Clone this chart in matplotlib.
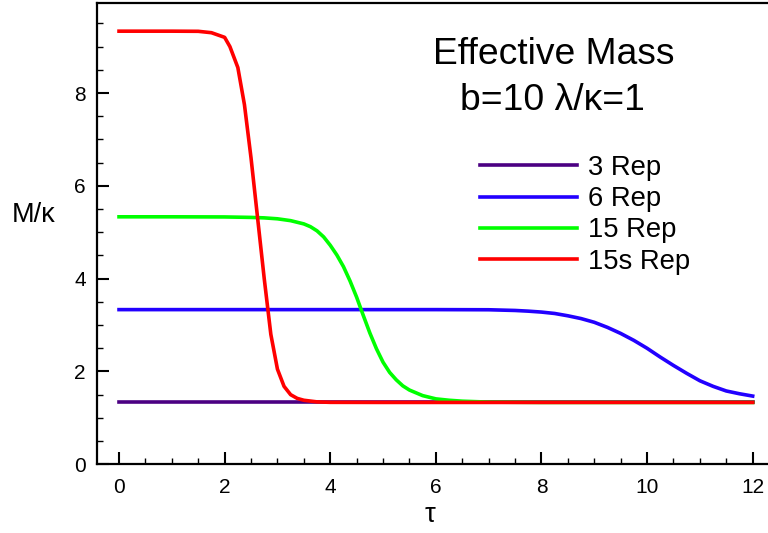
import matplotlib
matplotlib.use("Agg")
import matplotlib.pyplot as plt
from matplotlib.ticker import MultipleLocator

plt.rcParams['font.family'] = ['Liberation Sans', 'DejaVu Sans']

# 3 Rep (flat)
tau_3 = [0, 2, 4, 6, 8, 10, 12]
mass_3 = [1.333, 1.333, 1.333, 1.333, 1.333, 1.333, 1.333]

# 6 Rep
tau_6 = [0, 2, 4, 6, 7, 7.5, 7.75, 8, 8.25, 8.5, 8.75, 9, 9.25, 9.5, 9.75,
         10, 10.25, 10.5, 10.75, 11, 11.25, 11.5, 11.75, 12]
mass_6 = [3.333, 3.333, 3.333, 3.333, 3.33, 3.315, 3.30, 3.28, 3.25, 3.20,
          3.14, 3.06, 2.95, 2.82, 2.67, 2.50, 2.31, 2.13, 1.96, 1.80, 1.68,
          1.58, 1.52, 1.47]

# 15 Rep
tau_15 = [0, 1, 2, 2.5, 2.75, 3.0, 3.25, 3.5, 3.625, 3.75, 3.875, 4.0, 4.125,
          4.25, 4.375, 4.5, 4.625, 4.75, 4.875, 5.0, 5.125, 5.25, 5.375, 5.5,
          5.75, 6.0, 6.25, 6.5, 7, 8, 10, 12]
mass_15 = [5.333, 5.333, 5.33, 5.32, 5.31, 5.29, 5.25, 5.18, 5.12, 5.03, 4.90,
           4.72, 4.51, 4.26, 3.95, 3.60, 3.21, 2.83, 2.49, 2.20, 1.98, 1.82,
           1.69, 1.60, 1.48, 1.41, 1.38, 1.36, 1.34, 1.333, 1.333, 1.333]

# 15s Rep
tau_15s = [0, 0.5, 1.0, 1.5, 1.75, 2.0, 2.1, 2.25, 2.375, 2.5, 2.625, 2.75,
           2.875, 3.0, 3.125, 3.25, 3.375, 3.5, 3.75, 4.0, 5, 6, 8, 10, 12]
mass_15s = [9.333, 9.333, 9.333, 9.33, 9.30, 9.2, 9.0, 8.55, 7.75, 6.6, 5.3,
            4.0, 2.8, 2.05, 1.68, 1.50, 1.42, 1.38, 1.345, 1.335, 1.333,
            1.333, 1.333, 1.333, 1.333]

labels = ['3 Rep', '6 Rep', '15 Rep', '15s Rep']
colors = ['#4b0082', '#2200ff', '#00ff00', '#ff0000']

fig = plt.figure(figsize=(7.68, 5.33), dpi=100)
ax = fig.add_axes([97 / 768, 1 - 464.3 / 533, 1 - 97 / 768, 461.3 / 533])

series = [(tau_3, mass_3), (tau_6, mass_6), (tau_15, mass_15), (tau_15s, mass_15s)]
for (t, m), lab, c in zip(series, labels, colors):
    ax.plot(t, m, color=c, lw=2.6, label=lab)

ax.set_xlim(-0.417, 12.29)
ax.set_ylim(0, 9.94)
ax.xaxis.set_major_locator(MultipleLocator(2))
ax.xaxis.set_minor_locator(MultipleLocator(0.5))
ax.yaxis.set_major_locator(MultipleLocator(2))
ax.yaxis.set_minor_locator(MultipleLocator(0.5))
ax.tick_params(which='major', direction='in', length=8.4, width=1.5,
               labelsize=15)
ax.tick_params(which='minor', direction='in', length=4.3, width=1.0)
ax.tick_params(axis='x', which='major', pad=10)
ax.tick_params(axis='y', which='major', pad=8)
for s in ['left', 'bottom', 'top']:
    ax.spines[s].set_linewidth(1.6)
ax.spines['right'].set_visible(False)

fig.text(34 / 768, 1 - 215 / 533, 'M/κ', fontsize=19.5, ha='center', va='center')
fig.text(430 / 768, 1 - 515 / 533, 'τ', fontsize=19.5, ha='center', va='center')

fig.text(554 / 768, 1 - 55 / 533, 'Effective Mass', fontsize=26.8,
         ha='center', va='center')
fig.text(552 / 768, 1 - 100 / 533, 'b=10 λ/κ=1', fontsize=26.8,
         ha='center', va='center')

ax.legend(loc='upper left', bbox_to_anchor=(480 / 768, 1 - 155 / 533),
          bbox_transform=fig.transFigure, frameon=False, fontsize=19.7,
          handlelength=3.55, handletextpad=0.4, labelspacing=0.19,
          borderpad=0, borderaxespad=0)

fig.savefig('out.png', dpi=100)
